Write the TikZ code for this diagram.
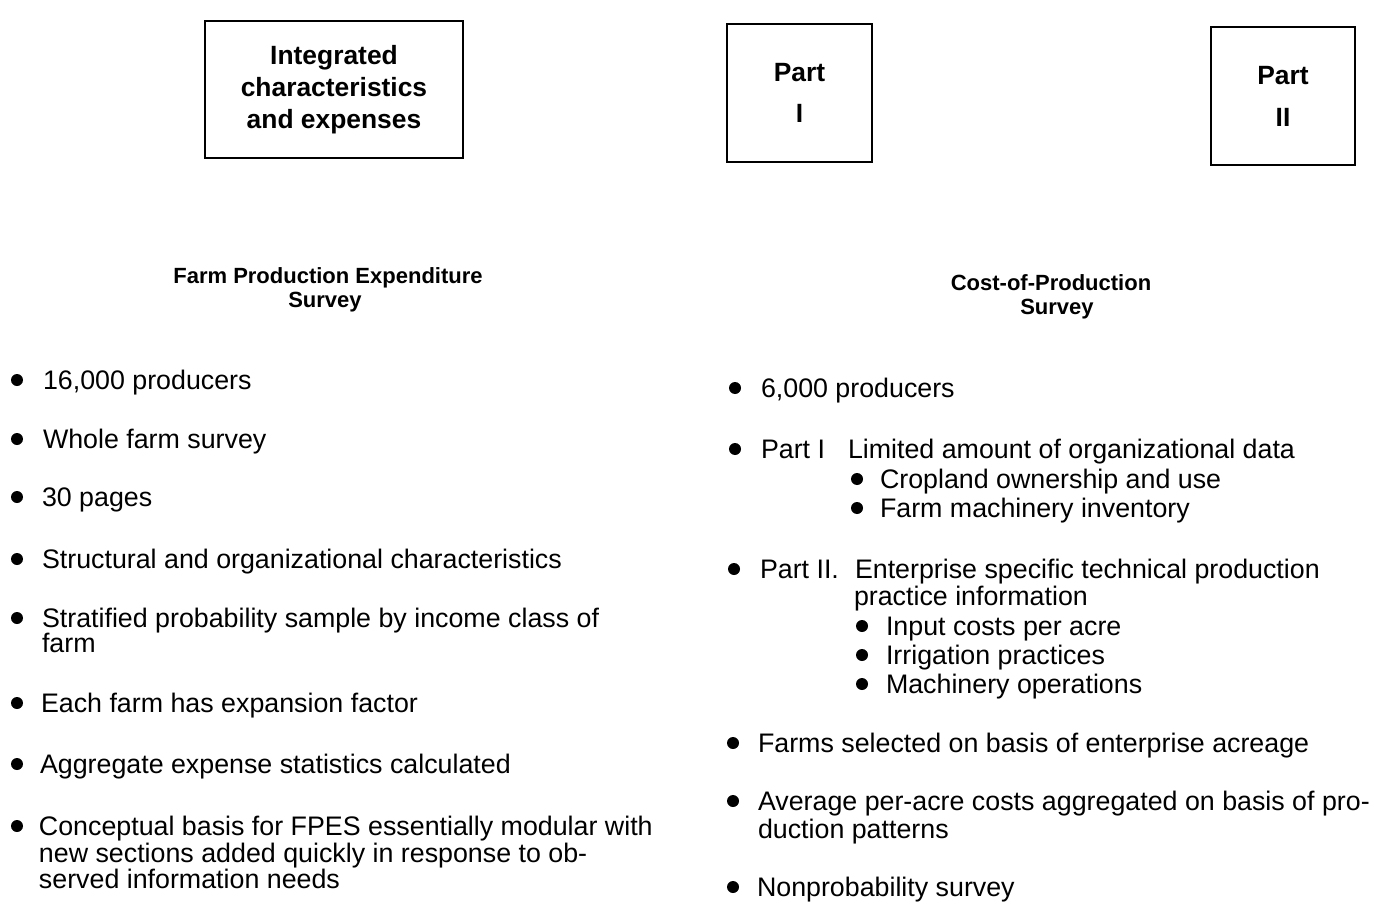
\documentclass[tikz,border=0pt]{standalone}
\usepackage{fontspec}
\setmainfont{Liberation Sans}
\newlength{\du}
\setlength{\du}{0.5pt}
\definecolor{dialinecolor}{rgb}{0.000000, 0.000000, 0.000000}
\definecolor{diafillcolor}{rgb}{1.000000, 1.000000, 1.000000}
\tikzset{
  surveybox/.style={draw=dialinecolor,fill=diafillcolor,line width=1.1pt,inner sep=0pt,outer sep=0pt,align=center,font=\fontsize{13.2}{16}\selectfont\bfseries},
  itemtext/.style={anchor=base west,inner sep=0pt,outer sep=0pt,color=dialinecolor,font=\fontsize{13.4}{13.4}\selectfont},
  headtext/.style={anchor=base,inner sep=0pt,outer sep=0pt,color=dialinecolor,font=\fontsize{11}{12}\selectfont\bfseries},
  itemdot/.style={circle,fill=dialinecolor,inner sep=0pt,outer sep=0pt,minimum size=12\du}
}
\begin{document}
\begin{tikzpicture}
\pgftransformxscale{1.000000}
\pgftransformyscale{-1.000000}
\pgfsetstrokecolor{dialinecolor}
\pgfsetfillcolor{diafillcolor}
\pgfsetlinewidth{1.100000pt}
\pgfsetmiterjoin
\pgfsetbuttcap
\useasboundingbox (0\du,0\du) rectangle (1376\du,904\du);
% boxes
\node[surveybox,minimum width=258\du,minimum height=137\du] (intbox) at (334.000000\du,89.500000\du){Integrated\\characteristics\\and expenses};
\node[surveybox,minimum width=145\du,minimum height=138\du] (partonebox) at (799.500000\du,93.000000\du){Part\\[4.5pt]I};
\node[surveybox,minimum width=144\du,minimum height=138\du] (parttwobox) at (1283.000000\du,96.000000\du){Part\\[5pt]II};
% setfont left to latex
\node[headtext] (fpeshead) at (328.000000\du,283.000000\du){Farm Production Expenditure};
\node[headtext] (fpessurvey) at (325.000000\du,307.000000\du){Survey};
\node[headtext] (cophead) at (1051.000000\du,290.000000\du){Cost-of-Production};
\node[headtext] (copsurvey) at (1057.000000\du,314.000000\du){Survey};
% left column
\node[itemdot] (ldotA) at (17.000000\du,380.000000\du){};
\node[itemtext] (litemA) at (43.000000\du,389.000000\du){16,000 producers};
\node[itemdot] (ldotB) at (17.000000\du,439.000000\du){};
\node[itemtext] (litemB) at (43.000000\du,448.000000\du){Whole farm survey};
\node[itemdot] (ldotC) at (17.000000\du,497.000000\du){};
\node[itemtext] (litemC) at (42.000000\du,506.000000\du){30 pages};
\node[itemdot] (ldotD) at (17.000000\du,559.000000\du){};
\node[itemtext] (litemD) at (42.000000\du,568.000000\du){Structural and organizational characteristics};
\node[itemdot] (ldotE) at (17.000000\du,618.000000\du){};
\node[itemtext] (litemE) at (42.000000\du,627.000000\du){Stratified probability sample by income class of};
\node[itemtext] (litemEb) at (42.000000\du,652.000000\du){farm};
\node[itemdot] (ldotF) at (17.000000\du,703.000000\du){};
\node[itemtext] (litemF) at (41.000000\du,712.000000\du){Each farm has expansion factor};
\node[itemdot] (ldotG) at (17.000000\du,764.000000\du){};
\node[itemtext] (litemG) at (40.000000\du,773.000000\du){Aggregate expense statistics calculated};
\node[itemdot] (ldotH) at (17.000000\du,826.000000\du){};
\node[itemtext] (litemH) at (39.000000\du,835.000000\du){Conceptual basis for FPES essentially modular with};
\node[itemtext] (litemHb) at (39.000000\du,862.000000\du){new sections added quickly in response to ob-};
\node[itemtext] (litemHc) at (39.000000\du,888.000000\du){served information needs};
% right column
\node[itemdot] (rdotA) at (735.000000\du,388.000000\du){};
\node[itemtext] (ritemA) at (761.000000\du,397.000000\du){6,000 producers};
\node[itemdot] (rdotB) at (735.000000\du,449.000000\du){};
\node[itemtext] (ritemB) at (761.000000\du,458.000000\du){Part I};
\node[itemtext] (ritemBt) at (848.000000\du,458.000000\du){Limited amount of organizational data};
\node[itemdot] (rsubdotA) at (857.000000\du,479.000000\du){};
\node[itemtext] (rsubA) at (880.000000\du,488.000000\du){Cropland ownership and use};
\node[itemdot] (rsubdotB) at (857.000000\du,508.000000\du){};
\node[itemtext] (rsubB) at (880.000000\du,517.000000\du){Farm machinery inventory};
\node[itemdot] (rdotC) at (734.000000\du,569.000000\du){};
\node[itemtext] (ritemC) at (760.000000\du,578.000000\du){Part II.};
\node[itemtext] (ritemCt) at (855.000000\du,578.000000\du){Enterprise specific technical production};
\node[itemtext] (ritemCb) at (854.000000\du,605.000000\du){practice information};
\node[itemdot] (rsubdotC) at (862.000000\du,626.000000\du){};
\node[itemtext] (rsubC) at (886.000000\du,635.000000\du){Input costs per acre};
\node[itemdot] (rsubdotD) at (862.000000\du,655.000000\du){};
\node[itemtext] (rsubD) at (886.000000\du,664.000000\du){Irrigation practices};
\node[itemdot] (rsubdotE) at (862.000000\du,684.000000\du){};
\node[itemtext] (rsubE) at (886.000000\du,693.000000\du){Machinery operations};
\node[itemdot] (rdotD) at (733.000000\du,743.000000\du){};
\node[itemtext] (ritemD) at (758.000000\du,752.000000\du){Farms selected on basis of enterprise acreage};
\node[itemdot] (rdotE) at (733.000000\du,801.000000\du){};
\node[itemtext] (ritemE) at (758.000000\du,810.000000\du){Average per-acre costs aggregated on basis of pro-};
\node[itemtext] (ritemEb) at (758.000000\du,838.000000\du){duction patterns};
\node[itemdot] (rdotF) at (733.000000\du,887.000000\du){};
\node[itemtext] (ritemF) at (757.000000\du,896.000000\du){Nonprobability survey};
\end{tikzpicture}
\end{document}
